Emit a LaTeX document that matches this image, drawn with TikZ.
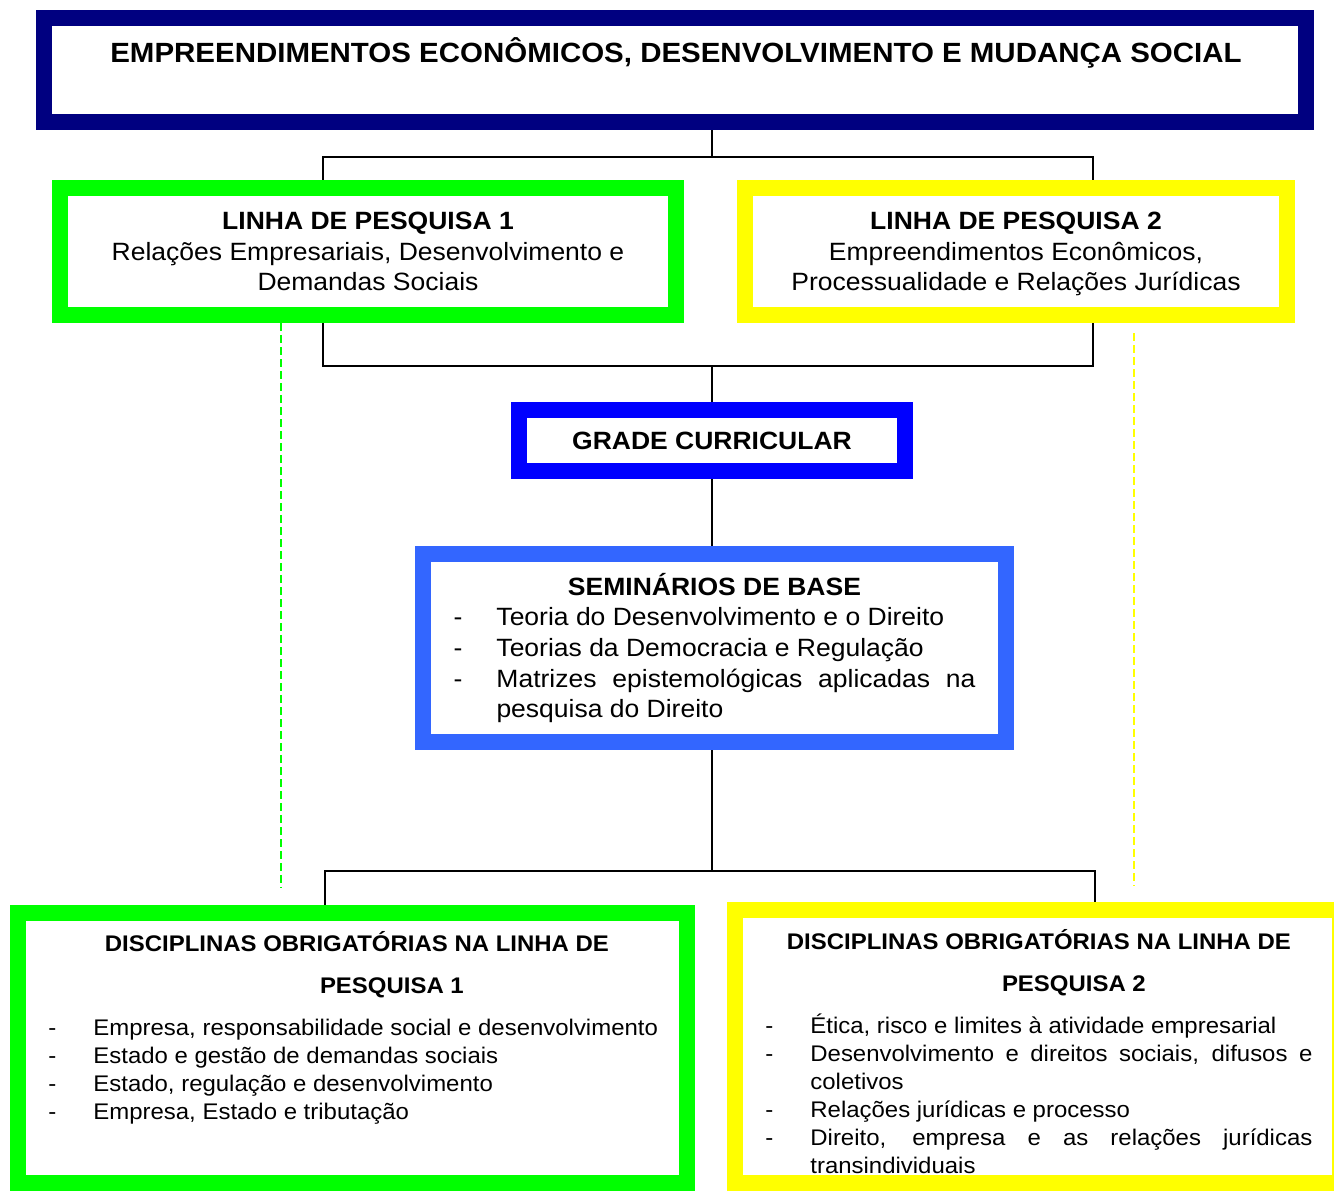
\documentclass[tikz,border=0pt]{standalone}
\usepackage{fontspec}
\setmainfont{Liberation Sans}[FakeStretch=1.06]
\usetikzlibrary{backgrounds}
\definecolor{navybox}{RGB}{0,0,128}
\definecolor{greenbox}{RGB}{0,255,0}
\definecolor{yellowbox}{RGB}{255,255,0}
\definecolor{gradebox}{RGB}{0,0,255}
\definecolor{basebox}{RGB}{51,102,255}
\setlength{\parindent}{0pt}
\hyphenpenalty=10000
\exhyphenpenalty=10000
\newlength{\dashw}
\newcommand{\itm}[1]{\par\noindent\hangindent=\dashw\hangafter=1\makebox[\dashw][l]{-}#1\par}
\begin{document}
\begin{tikzpicture}[x=0.5pt,y=-0.5pt,
    box/.style={draw=#1,line width=8pt,fill=white,inner sep=0pt},
    conn/.style={line width=0.75pt},
    guide/.style={draw=#1,line width=0.6pt,dash pattern=on 4pt off 2pt},
    head/.style={font=\fontsize{12.5}{15.3}\selectfont,align=center,text depth=0pt},
    list/.style={align=justify,inner sep=0pt}]
    \useasboundingbox (0,0) rectangle (1334,1191);

    \node[box=navybox,minimum width=631pt,minimum height=52pt] (top) at (675,70) {};
    \node[font=\fontsize{13.9}{17}\selectfont\bfseries] (toptxt) at (676,53)
    {EMPREENDIMENTOS ECONÔMICOS, DESENVOLVIMENTO E MUDANÇA SOCIAL};

    \node[box=greenbox,minimum width=308pt,minimum height=63.5pt,head] (l1) at (368,251.5)
    {\textbf{LINHA DE PESQUISA 1}\\Relações Empresariais, Desenvolvimento e\\Demandas Sociais};
    \node[box=yellowbox,minimum width=271pt,minimum height=63.5pt,head] (l2) at (1016,251.5)
    {\textbf{LINHA DE PESQUISA 2}\\Empreendimentos Econômicos,\\Processualidade e Relações Jurídicas};

    \node[box=gradebox,minimum width=193pt,minimum height=30.5pt,head,
        font=\fontsize{12.5}{15.3}\selectfont\bfseries] (grade) at (712,440.5) {GRADE CURRICULAR};

    \node[box=basebox,minimum width=291.5pt,minimum height=94pt,list,text width=261pt,
        font=\fontsize{12.5}{15.3}\selectfont] (base) at (714.5,648)
    {\setlength{\dashw}{21.5pt}%
    {\centering\bfseries SEMINÁRIOS DE BASE\par}
    \itm{Teoria do Desenvolvimento e o Direito}
    \itm{Teorias da Democracia e Regulação}
    \itm{Matrizes epistemológicas aplicadas na pesquisa do Direito}};

    \node[box=greenbox,minimum width=334.5pt,minimum height=135pt] (d1) at (352.5,1048) {};
    \node[list,font=\fontsize{11.3}{14}\selectfont,text width=308.5pt,anchor=north west] (d1txt) at (48,931)
    {\setlength{\dashw}{22.5pt}%
    {\centering\bfseries\baselineskip=21pt DISCIPLINAS OBRIGATÓRIAS NA LINHA DE\\\hspace*{35pt}PESQUISA 1\par}
    \vspace{7pt}
    \itm{Empresa, responsabilidade social e desenvolvimento}
    \itm{Estado e gestão de demandas sociais}
    \itm{Estado, regulação e desenvolvimento}
    \itm{Empresa, Estado e tributação}};

    \node[box=yellowbox,minimum width=302.5pt,minimum height=136.5pt] (d2) at (1037.5,1046.5) {};
    \node[list,font=\fontsize{11.3}{14}\selectfont,text width=273.5pt,anchor=north west] (d2txt) at (765,929)
    {\setlength{\dashw}{22.5pt}%
    {\centering\bfseries\baselineskip=21pt DISCIPLINAS OBRIGATÓRIAS NA LINHA DE\\\hspace*{35pt}PESQUISA 2\par}
    \vspace{7pt}
    \itm{Ética, risco e limites à atividade empresarial}
    \itm{Desenvolvimento e direitos sociais, difusos e coletivos}
    \itm{Relações jurídicas e processo}
    \itm{Direito, empresa e as relações jurídicas transindividuais}};

    % connectors
    \coordinate (t1) at (323,157);
    \coordinate (t2) at (1093,157);
    \coordinate (m1) at (323,366);
    \coordinate (m2) at (1093,366);
    \coordinate (b1) at (325,871);
    \coordinate (b2) at (1095,871);
    \coordinate (g1) at (281,888);
    \coordinate (g2) at (1134,886);
    \begin{scope}[on background layer]
        \draw[conn] (top.south -| grade) -- (grade |- t1);
        \draw[conn] (l1.north -| t1) -- (t1) -- (t2) -- (l2.north -| t2);
        \draw[conn] (l1.south -| m1) -- (m1) -- (m2) -- (l2.south -| m2);
        \draw[conn] (grade |- m1) -- (grade.north);
        \draw[conn] (grade.south) -- (base.north -| grade);
        \draw[conn] (base.south -| grade) -- (grade |- b1);
        \draw[conn] (d1.north -| b1) -- (b1) -- (b2) -- (d2.north -| b2);
        \draw[guide=greenbox] (l1.south -| g1) -- (g1);
        \draw[guide=yellowbox] ([yshift=-5pt]l2.south -| g2) -- (g2);
    \end{scope}
\end{tikzpicture}
\end{document}
